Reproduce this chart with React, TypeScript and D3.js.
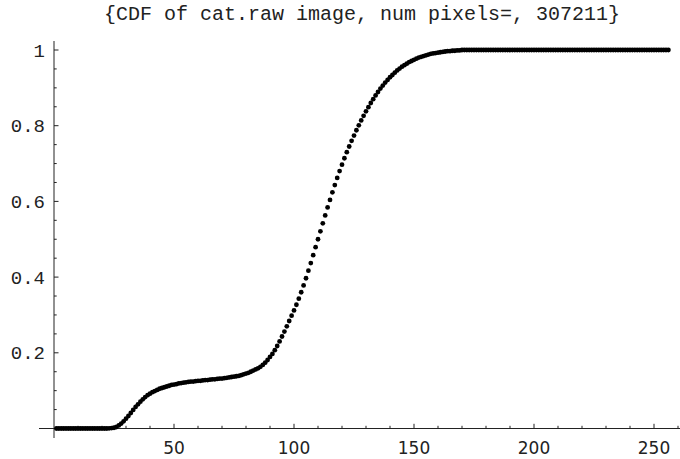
import React from "react";
import * as d3 from "d3";

const title = "{CDF of cat.raw image, num pixels=, 307211}";

// CDF values for gray level index 1..256
const cdfValues: number[] = [
  0, 0, 0, 0, 0, 0, 0, 0, 0, 0,
  0, 0, 0, 0, 0, 0, 0, 0, 0, 0,
  0, 0, 0.0005, 0.001, 0.002, 0.004, 0.008, 0.013, 0.019, 0.026,
  0.033, 0.041, 0.049, 0.057, 0.064, 0.071, 0.077, 0.083, 0.088, 0.092,
  0.096, 0.099, 0.102, 0.105, 0.107, 0.109, 0.111, 0.113, 0.115, 0.116,
  0.117, 0.119, 0.12, 0.121, 0.122, 0.123, 0.124, 0.124, 0.125, 0.126,
  0.126, 0.127, 0.128, 0.128, 0.129, 0.13, 0.13, 0.131, 0.132, 0.132,
  0.133, 0.134, 0.135, 0.136, 0.137, 0.138, 0.139, 0.141, 0.143, 0.145,
  0.147, 0.15, 0.153, 0.156, 0.159, 0.163, 0.168, 0.174, 0.181, 0.189,
  0.197, 0.207, 0.218, 0.23, 0.243, 0.256, 0.27, 0.284, 0.298, 0.312,
  0.327, 0.343, 0.36, 0.378, 0.397, 0.417, 0.437, 0.458, 0.479, 0.5,
  0.521, 0.542, 0.563, 0.584, 0.604, 0.624, 0.643, 0.662, 0.68, 0.697,
  0.714, 0.73, 0.745, 0.76, 0.774, 0.788, 0.801, 0.814, 0.826, 0.838,
  0.849, 0.86, 0.87, 0.88, 0.889, 0.898, 0.906, 0.914, 0.921, 0.928,
  0.934, 0.94, 0.946, 0.951, 0.956, 0.96, 0.964, 0.968, 0.971, 0.974,
  0.977, 0.98, 0.982, 0.984, 0.986, 0.988, 0.99, 0.991, 0.992, 0.993,
  0.994, 0.995, 0.996, 0.997, 0.997, 0.998, 0.998, 0.999, 0.999, 1,
  1, 1, 1, 1, 1, 1, 1, 1, 1, 1,
  1, 1, 1, 1, 1, 1, 1, 1, 1, 1,
  1, 1, 1, 1, 1, 1, 1, 1, 1, 1,
  1, 1, 1, 1, 1, 1, 1, 1, 1, 1,
  1, 1, 1, 1, 1, 1, 1, 1, 1, 1,
  1, 1, 1, 1, 1, 1, 1, 1, 1, 1,
  1, 1, 1, 1, 1, 1, 1, 1, 1, 1,
  1, 1, 1, 1, 1, 1, 1, 1, 1, 1,
  1, 1, 1, 1, 1, 1,
];

const xMajorTicks = [50, 100, 150, 200, 250];
const xMinorTicks = [10, 20, 30, 40, 60, 70, 80, 90, 110, 120, 130, 140, 160, 170, 180, 190, 210, 220, 230, 240, 260];
const yMajorTicks = [0.2, 0.4, 0.6, 0.8, 1];
const yTickLabels = ["0.2", "0.4", "0.6", "0.8", "1"];
const yMinorTicks = [0.05, 0.1, 0.15, 0.25, 0.3, 0.35, 0.45, 0.5, 0.55, 0.65, 0.7, 0.75, 0.85, 0.9, 0.95];

const W = 680;
const H = 459;

export default function App() {
  const x = d3.scaleLinear().domain([0, 260]).range([54, 678]);
  const y = d3.scaleLinear().domain([0, 1]).range([428.5, 50]);
  const points = cdfValues.map((v, i) => ({ gx: i + 1, v }));
  const axisColor = "#222";
  const mono = "'Courier New', 'Liberation Mono', monospace";
  const sans = "'DejaVu Sans', Verdana, sans-serif";
  const x0 = x(0);
  const y0 = y(0);
  return (
    <svg
      width={W}
      height={H}
      style={{ position: "absolute", left: 0, top: 0, background: "#fff" }}
    >
      <rect x={0} y={0} width={W} height={H} fill="#fff" />
      <text x={362} y={20} textAnchor="middle" fontFamily={mono} fontSize={20} fill="#222">
        {title}
      </text>
      <line x1={39} x2={680} y1={y0} y2={y0} stroke={axisColor} strokeWidth={1} />
      <line x1={x0} x2={x0} y1={41} y2={438} stroke={axisColor} strokeWidth={1} />
      {xMajorTicks.map((t) => (
        <g key={"xm" + t}>
          <line x1={x(t)} x2={x(t)} y1={y0} y2={y0 - 4.7} stroke={axisColor} />
          <text x={x(t)} y={454} textAnchor="middle" fontFamily={sans} fontSize={17} fill="#222">
            {t}
          </text>
        </g>
      ))}
      {xMinorTicks.map((t) => (
        <line key={"xn" + t} x1={x(t)} x2={x(t)} y1={y0} y2={y0 - 2.7} stroke={axisColor} />
      ))}
      {yMajorTicks.map((t, i) => (
        <g key={"ym" + t}>
          <line x1={x0} x2={x0 + 4.5} y1={y(t)} y2={y(t)} stroke={axisColor} />
          <text x={45} y={y(t)} dy="0.35em" textAnchor="end" fontFamily={mono} fontSize={19} fill="#222">
            {yTickLabels[i]}
          </text>
        </g>
      ))}
      {yMinorTicks.map((t) => (
        <line key={"yn" + t} x1={x0} x2={x0 + 2.7} y1={y(t)} y2={y(t)} stroke={axisColor} />
      ))}
      {points.map((p) => (
        <circle key={p.gx} cx={x(p.gx)} cy={y(p.v)} r={2.4} fill="#000" />
      ))}
    </svg>
  );
}
